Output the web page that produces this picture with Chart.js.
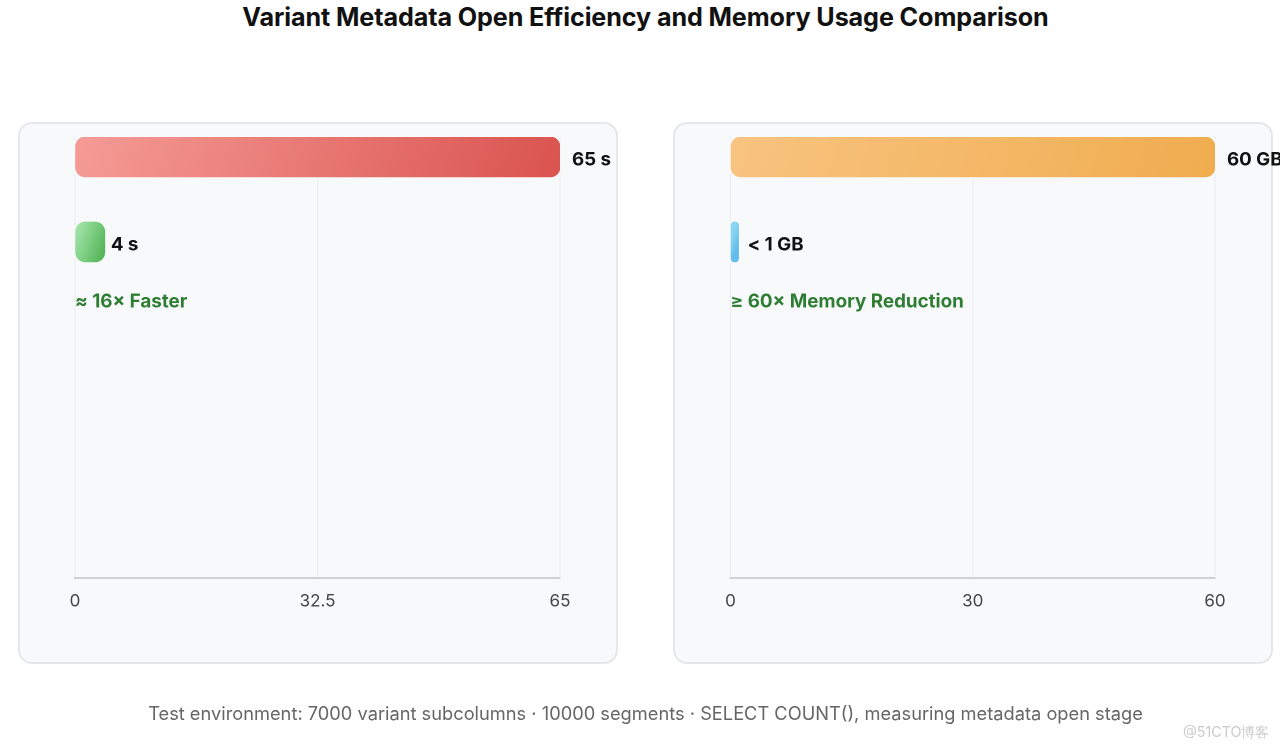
<!DOCTYPE html>
<html><head><meta charset="utf-8">
<script src="https://cdn.jsdelivr.net/npm/chart.js@4/dist/chart.umd.min.js"></script>
<style>
html,body{margin:0;padding:0;width:1280px;height:750px;overflow:hidden;background:#fff;font-family:Inter,sans-serif}
.t{position:absolute;white-space:nowrap}
#title{left:0;width:1291px;top:0;text-align:center;font-size:25.15px;font-weight:700;line-height:34px;color:#111;letter-spacing:-.1px}
#foot{left:0;width:1291px;top:701px;text-align:center;font-size:18.25px;line-height:24px;color:#666}
#mark{left:1183px;top:723px;font-size:14.3px;line-height:18px;color:#ccc}
.card{position:absolute;top:122px;width:596px;height:538px;border:2px solid #e6e7e9;border-radius:14px;background:#f8f9fb;box-sizing:content-box}
canvas{position:absolute;top:0}
</style></head><body>
<div class="t" id="title">Variant Metadata Open Efficiency and Memory Usage Comparison</div>
<div class="card" style="left:18px"></div>
<div class="card" style="left:673px"></div>
<canvas id="c1" width="640" height="750" style="left:0"></canvas>
<canvas id="c2" width="640" height="750" style="left:640px"></canvas>
<div class="t" id="foot">Test environment: 7000 variant subcolumns · 10000 segments · SELECT COUNT(), measuring metadata open stage</div>
<div class="t" id="mark">@51CTO博客</div>
<script>
const categories = ["Before", "After"];
const timeValues = [65, 4];
const timeLabels = ["65 s", "4 s"];
const timeTicks = [0, 32.5, 65];
const timeNote = "≈ 16× Faster";
const memoryValues = [60, 1];
const memoryLabels = ["60 GB", "< 1 GB"];
const memoryTicks = [0, 30, 60];
const memoryNote = "≥ 60× Memory Reduction";
const timeColors = [["#f79f9a", "#d9504c"], ["#9fe3a6", "#58b75c"]];
const memoryColors = [["#f9c583", "#f0ac4d"], ["#8ad4f4", "#62bde8"]];

const rowStart = -0.235, rowEnd = 4.953, noteRow = 1.705, barPx = 40;

function gradient(ctx, colors) {
  const chart = ctx.chart, i = ctx.dataIndex;
  if (i === undefined || !ctx.raw) return colors[0][0];
  const c = colors[i], xs = chart.scales.x, ys = chart.scales.y;
  const x0 = xs.getPixelForValue(0), x1 = xs.getPixelForValue(ctx.raw.x), yc = ys.getPixelForValue(i);
  if (![x0, x1, yc].every(Number.isFinite)) return c[0];
  const dy = (x1 - x0) * 0.18;
  const g = chart.ctx.createLinearGradient(x0, yc - dy, x1, yc + dy);
  g.addColorStop(0, c[0]); g.addColorStop(1, c[1]);
  return g;
}

const barText = {
  id: "barText",
  beforeDatasetsDraw(chart) {
    const c = chart.ctx;
    c.save();
    chart.getDatasetMeta(0).data.forEach(el => {
      c.beginPath();
      c.roundRect(el.base, el.y - barPx / 2, el.x - el.base, barPx, Math.min(10, (el.x - el.base) / 2));
      c.strokeStyle = "#f8f9fb"; c.lineWidth = 5; c.stroke();
    });
    c.restore();
  },
  afterDatasetsDraw(chart, args, opts) {
    const c = chart.ctx;
    c.save();
    c.textBaseline = "middle"; c.textAlign = "left";
    c.fillStyle = "#111"; c.font = "700 18.7px Inter";
    chart.getDatasetMeta(0).data.forEach((el, i) => c.fillText(opts.labels[i], el.x + opts.gaps[i], el.y + 3));
    c.fillStyle = "#2e7d32"; c.font = "700 18.8px Inter";
    c.fillText(opts.note, chart.scales.x.getPixelForValue(0), chart.scales.y.getPixelForValue(noteRow));
    c.restore();
  }
};

function build(id, values, labels, ticks, note, colors, gaps, left, right) {
  new Chart(document.getElementById(id), {
    type: "bar",
    data: {
      labels: categories,
      datasets: [{
        data: values.map((v, i) => ({ x: v, y: i })),
        barThickness: barPx,
        borderRadius: 10,
        borderSkipped: false,
        borderWidth: 0,
        backgroundColor: ctx => gradient(ctx, colors)
      }]
    },
    options: {
      indexAxis: "y",
      responsive: false,
      animation: false,
      devicePixelRatio: 2,
      layout: { padding: { left, right, top: 137, bottom: 0 } },
      plugins: {
        legend: { display: false },
        tooltip: { enabled: false },
        title: { display: false },
        barText: { labels, note, gaps }
      },
      scales: {
        y: { type: "linear", display: false, reverse: true, offset: false, min: rowStart, max: rowEnd },
        x: {
          type: "linear", min: ticks[0], max: ticks[ticks.length - 1],
          afterBuildTicks: s => { s.ticks = ticks.map(v => ({ value: v })); },
          afterFit: s => { s.height = 172; },
          grid: { color: "#e9ebee", lineWidth: 1, drawTicks: false },
          border: { color: "#cfd1d4", width: 2 },
          ticks: { color: "#444", font: { family: "Inter", size: 17 }, padding: 13, maxRotation: 0, autoSkip: false,
                    callback: v => String(v) }
        }
      }
    },
    plugins: [barText]
  });
}
build("c1", timeValues, timeLabels, timeTicks, timeNote, timeColors, [12, 6], 75, 80);
build("c2", memoryValues, memoryLabels, memoryTicks, memoryNote, memoryColors, [12, 9], 90.5, 65);
</script>
</body></html>
